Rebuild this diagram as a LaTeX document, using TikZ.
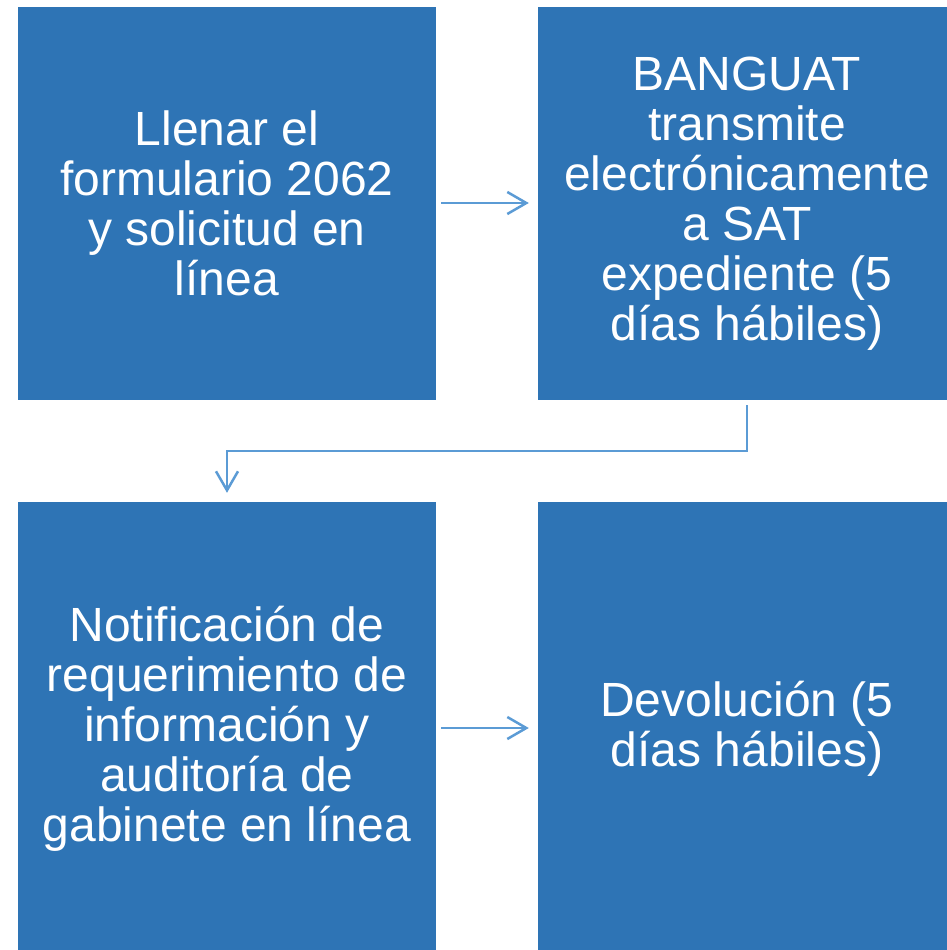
\documentclass[tikz,border=0pt]{standalone}
\usepackage{fontspec}
\setmainfont{Liberation Sans}
\usetikzlibrary{arrows.meta}
\definecolor{boxblue}{RGB}{46,116,181}
\definecolor{arrowblue}{RGB}{91,155,213}
\begin{document}
\begin{tikzpicture}[x=1pt,y=-1pt,
  stepbox/.style={fill=boxblue,draw=none,text=white,inner sep=0pt,
    minimum width=418pt,align=center,font=\fontsize{48}{50}\selectfont},
  conn/.style={draw=arrowblue,line width=2.5pt,
    -{Straight Barb[length=19pt,width=22pt,line width=2.5pt]}}]
\useasboundingbox (0,0) rectangle (947,950);
\node[stepbox,minimum height=393pt] (tl) at (227,203.5) {Llenar el\\formulario 2062\\y solicitud en\\línea};
\node[stepbox,minimum height=393pt] (tr) at (747,203.5) {BANGUAT\\transmite\\electrónicamente\\a SAT\\expediente (5\\días hábiles)};
\node[stepbox,minimum height=453pt] (bl) at (227,728.5) {Notificación de\\requerimiento de\\información y\\auditoría de\\gabinete en línea};
\node[stepbox,minimum height=453pt] (br) at (747,728.5) {Devolución (5\\días hábiles)};
\draw[conn,shorten <=5pt,shorten >=9pt] (tl.east |- 0,203) -- (tr.west |- 0,203);
\draw[conn,shorten <=5pt,shorten >=9pt] (bl.east |- 0,728) -- (br.west |- 0,728);
\coordinate (m) at (747,451);
\draw[conn,shorten <=5pt,shorten >=9pt] (tr.south) -- (m) -| (bl.north);
\end{tikzpicture}
\end{document}
